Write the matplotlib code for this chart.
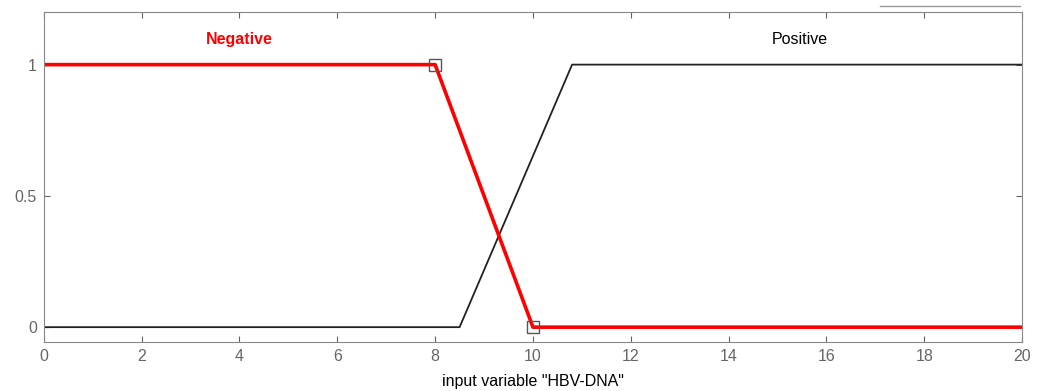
import matplotlib.pyplot as plt
from matplotlib.lines import Line2D

# membership functions for input "HBV-DNA"
neg_x = [0, 8, 10, 20]
neg_y = [1, 1, 0, 0]
pos_x = [0, 8.5, 10.8, 20]
pos_y = [0, 0, 1, 1]
handle_x = [8, 10]
handle_y = [1, 0]
xticks = [0, 2, 4, 6, 8, 10, 12, 14, 16, 18, 20]
yticks = [0, 0.5, 1]

plt.rcParams['font.family'] = ['Liberation Sans', 'DejaVu Sans']

fig = plt.figure(figsize=(10.44, 3.91), dpi=100)
ax = fig.add_axes([0.042, 0.125, 0.937, 0.844])

ax.plot(pos_x, pos_y, color='#222222', lw=1.3)
ax.plot(neg_x, neg_y, color='#ff0000', lw=2.6)
ax.plot(handle_x, handle_y, ls='none', marker='s', ms=8, mfc='none',
        mec='#555555', mew=1.0)

ax.text(4.0, 1.095, 'Negative', color='#ff0000', fontsize=11.5, weight='bold',
        ha='center', va='center')
ax.text(15.45, 1.095, 'Positive', color='black', fontsize=11.5,
        ha='center', va='center')

ax.set_xlim(0, 20)
ax.set_ylim(-0.057, 1.2)
ax.set_xticks(xticks)
ax.set_yticks(yticks)
ax.set_yticklabels(['0', '0.5', '1'])
ax.tick_params(direction='in', top=True, right=True, colors='#666666',
               labelsize=11.5, length=4, pad=5)
for s in ax.spines.values():
    s.set_color('#888888')
ax.set_xlabel('input variable "HBV-DNA"', fontsize=11.5, labelpad=7)

# stray line above the axes (top right)
fig.add_artist(Line2D([880 / 1044, 1020 / 1044], [1 - 6 / 391, 1 - 6 / 391],
                      color='#999999', lw=1.0))

fig.savefig('out.png', dpi=100)
